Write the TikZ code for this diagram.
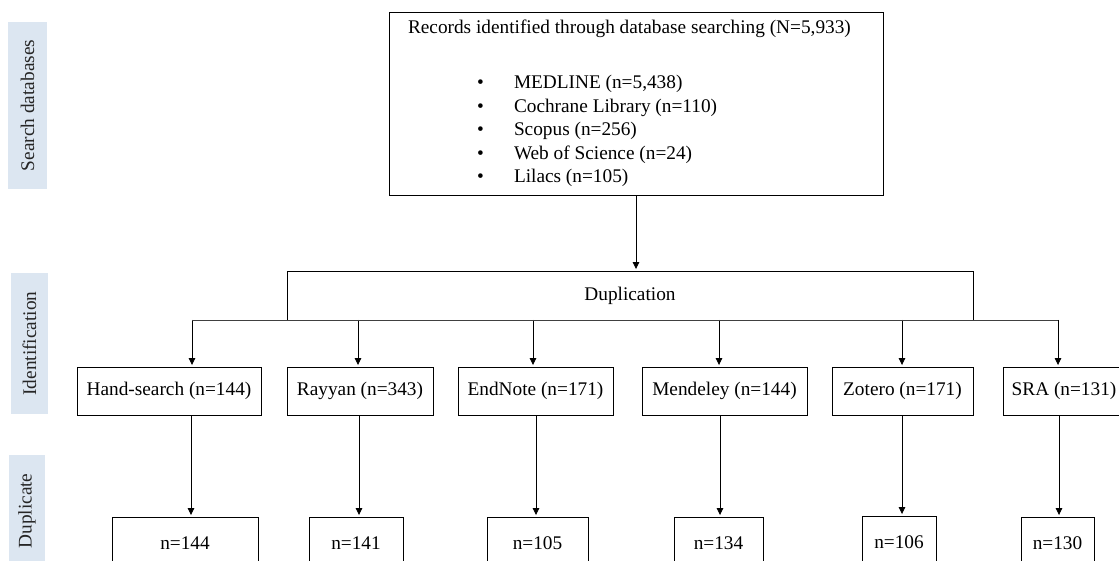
\documentclass[tikz,border=0pt]{standalone}
\usepackage{fontspec}
\setmainfont{Liberation Serif}
\usetikzlibrary{arrows.meta}
\definecolor{stagebg}{RGB}{220,230,241}
\newcommand{\dbitem}[1]{\makebox[106pt][l]{\hspace*{69pt}\textbullet}#1}

\begin{document}
\begin{tikzpicture}[x=1pt,y=-1pt,
    font=\fontsize{19.3}{23.5}\selectfont,
    box/.style={draw=black, line width=0.9pt, inner sep=0pt, align=center},
    stage/.style={fill=stagebg, rotate=90, inner sep=0pt, text=black!85},
    arr/.style={-{Triangle[width=6.5pt,length=7pt]}, line width=0.8pt, shorten >=1.5pt}]
    \def\yb{320} % branch line
    \useasboundingbox (0,0) rectangle (1119,561);

    % stage labels
    \node[stage, minimum width=167pt, minimum height=39pt] (search) at (27.5,105.5) {Search databases};
    \node[stage, minimum width=141pt, minimum height=37pt] (ident) at (29.5,343.5) {Identification};
    \node[stage, minimum width=112pt, minimum height=36pt] (dupl) at (27,511) {Duplicate};

    % records box
    \node[box, minimum width=494pt, minimum height=183pt, align=left, inner xsep=17pt] (rec) at (636,103.5)
    {\makebox[456pt][l]{Records identified through database searching (N=5,933)}\\[31.5pt]
     \dbitem{MEDLINE (n=5,438)}\\
     \dbitem{Cochrane Library (n=110)}\\
     \dbitem{Scopus (n=256)}\\
     \dbitem{Web of Science (n=24)}\\
     \dbitem{Lilacs (n=105)}};

    % duplication box
    \node[box, minimum width=686pt, minimum height=49pt] (dup) at (630,295.5) {Duplication};
    \draw[arr] (rec.south) -- (rec.south |- dup.north);

    % reference managers
    \node[box, minimum width=184pt, minimum height=48pt] (hand) at (169,391) {Hand-search (n=144)};
    \node[box, minimum width=146pt, minimum height=48pt] (rayyan) at (360,391) {Rayyan (n=343)};
    \node[box, minimum width=155pt, minimum height=48pt] (endnote) at (535.5,391) {EndNote (n=171)};
    \node[box, minimum width=165pt, minimum height=48pt] (mendeley) at (724.5,391) {Mendeley (n=144)};
    \node[box, minimum width=141pt, minimum height=48pt] (zotero) at (902.5,391) {Zotero (n=171)};
    \node[box, minimum width=122pt, minimum height=48pt] (sra) at (1064,391) {SRA (n=131)};

    % duplicates found
    \node[box, minimum width=146pt, minimum height=52pt] (hand-d) at (185,543) {n=144};
    \node[box, minimum width=94pt, minimum height=52pt] (rayyan-d) at (356,543) {n=141};
    \node[box, minimum width=101pt, minimum height=52pt] (endnote-d) at (537.5,543) {n=105};
    \node[box, minimum width=89pt, minimum height=52pt] (mendeley-d) at (718.5,543) {n=134};
    \node[box, minimum width=74pt, minimum height=52pt] (zotero-d) at (899,542) {n=106};
    \node[box, minimum width=73pt, minimum height=52pt] (sra-d) at (1057.5,543) {n=130};

    % branches
    \foreach \nm/\xa/\xb in {hand/192/191, rayyan/358/359, endnote/533/536,
                              mendeley/719/720, zotero/902/902, sra/1058/1059}{
        \coordinate (b-\nm) at (\xa,\yb);
        \coordinate (c-\nm) at (\xb,0);
        \draw[arr] (b-\nm) -- (b-\nm |- \nm.north);
        \draw[arr] (c-\nm |- \nm.south) -- (c-\nm |- \nm-d.north);
    }
    \draw[black!75, line width=0.8pt] (b-hand) -- (b-sra);

\end{tikzpicture}
\end{document}
